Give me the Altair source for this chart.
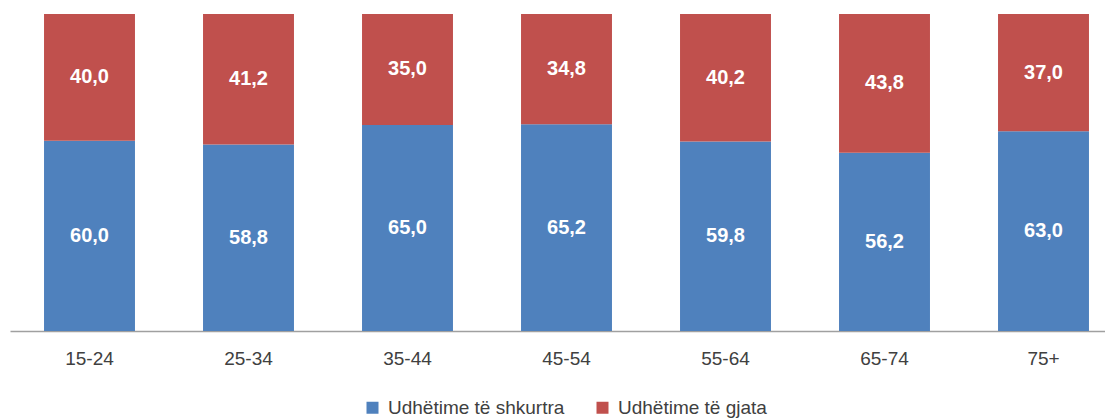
import altair as alt
import pandas as pd

grupmoshat = ["15-24", "25-34", "35-44", "45-54", "55-64", "65-74", "75+"]
te_shkurtra = [60.0, 58.8, 65.0, 65.2, 59.8, 56.2, 63.0]
te_gjata = [40.0, 41.2, 35.0, 34.8, 40.2, 43.8, 37.0]
seri = ["Udhëtime të shkurtra", "Udhëtime të gjata"]
ngjyrat = ["#4F81BD", "#C0504D"]

rows = []
for i, g in enumerate(grupmoshat):
    rows.append({"grupi": g, "lloji": seri[0], "vlera": te_shkurtra[i], "ord": 0})
    rows.append({"grupi": g, "lloji": seri[1], "vlera": te_gjata[i], "ord": 1})
df = pd.DataFrame(rows)

FONT = "Liberation Sans"

base = alt.Chart(df).transform_stack(
    stack="vlera", groupby=["grupi"], as_=["y0", "y1"], sort=[alt.SortField("ord")]
).transform_calculate(
    mid="(datum.y0 + datum.y1) / 2",
    lbl="replace(format(datum.vlera, '.1f'), '.', ',')",
)

x_enc = alt.X(
    "grupi:N",
    sort=grupmoshat,
    title=None,
    scale=alt.Scale(range=[0, 1113], paddingInner=0.428, paddingOuter=0.214),
    axis=alt.Axis(
        labelAngle=0, ticks=False, labelFontSize=19, labelFont=FONT,
        labelColor="#404040", labelPadding=18, domainColor="#A0A0A0",
        domainWidth=1.5, grid=False,
    ),
)

bars = base.mark_bar().encode(
    x=x_enc,
    y=alt.Y("y0:Q", scale=alt.Scale(domain=[0, 100]), axis=None),
    y2="y1:Q",
    color=alt.Color(
        "lloji:N",
        scale=alt.Scale(domain=seri, range=ngjyrat),
        legend=alt.Legend(
            title=None, orient="none", direction="horizontal",
            legendX=353, legendY=384, symbolType="square", symbolSize=144,
            symbolStrokeWidth=0, labelFontSize=19, labelFont=FONT,
            labelColor="#404040", columnPadding=28, labelOffset=6, padding=0,
            labelLimit=400,
        ),
    ),
)

labels = base.mark_text(
    color="white", fontWeight="bold", fontSize=20, font=FONT
).encode(
    x=alt.X("grupi:N", sort=grupmoshat),
    y=alt.Y("mid:Q"),
    text="lbl:N",
)

chart = alt.layer(bars, labels).properties(
    width=1095, height=317,
    autosize=alt.AutoSizeParams(type="none"),
    padding={"left": 2, "top": 6, "right": 0, "bottom": 88},
).configure_view(stroke=None)

chart.save("out.html", embed_options={"renderer": "svg", "actions": False})
